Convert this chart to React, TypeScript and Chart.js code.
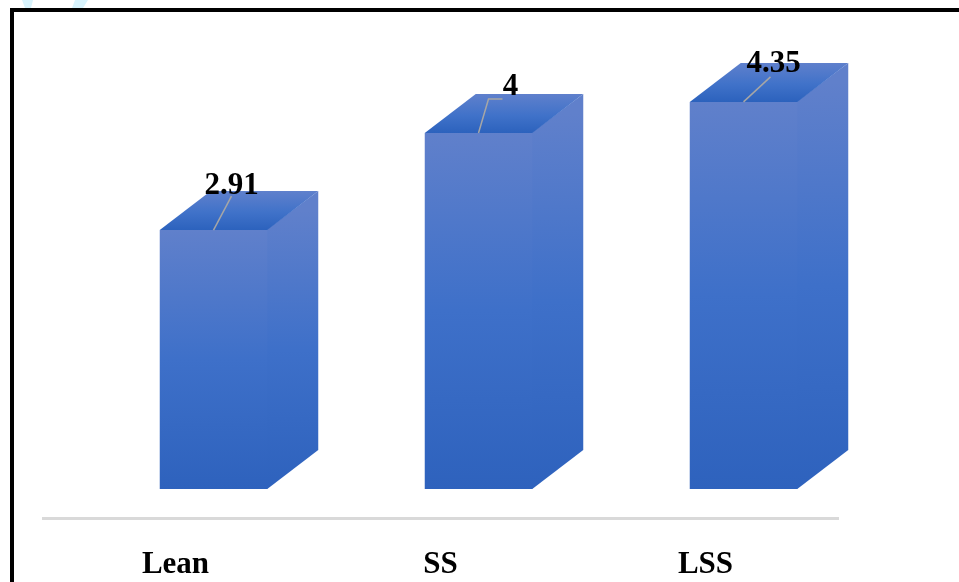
import { useEffect, useRef } from "react";
import { Chart, registerables } from "chart.js";

Chart.register(...registerables);

const categories = ["Lean", "SS", "LSS"];
const scores = [2.91, 4, 4.35];
const scoreLabels = ["2.91", "4", "4.35"];
// An unfilled series takes the first slot of each group, pushing the boxes right of their labels.
const spacer = [null, null, null];

const FRAME = "#000000";
const DEPTH_X = 51;
const DEPTH_Y = 39;
const FONT = '"Liberation Serif", serif';

// Vertical fade used by the front and side faces of a box.
function faceFill(ctx: CanvasRenderingContext2D, top: number, bottom: number) {
  const g = ctx.createLinearGradient(0, top, 0, bottom);
  g.addColorStop(0, "#6080cb");
  g.addColorStop(0.5, "#3e70c9");
  g.addColorStop(1, "#2e62bd");
  return g;
}

// Side and top faces, sitting behind the front face that the bar element paints.
const boxFaces = {
  id: "boxFaces",
  beforeDatasetsDraw(chart: Chart) {
    const { ctx } = chart;
    chart.getDatasetMeta(1).data.forEach((bar: any) => {
      const left = bar.x - bar.width / 2;
      const right = bar.x + bar.width / 2;
      const top = bar.y;
      const base = bar.base;

      ctx.save();
      ctx.fillStyle = faceFill(ctx, top - DEPTH_Y / 2, base);
      ctx.beginPath();
      ctx.moveTo(right - 1, top);
      ctx.lineTo(right + DEPTH_X, top - DEPTH_Y);
      ctx.lineTo(right + DEPTH_X, base - DEPTH_Y);
      ctx.lineTo(right, base);
      ctx.lineTo(right - 1, base);
      ctx.closePath();
      ctx.fill();

      const lid = ctx.createLinearGradient(0, top - DEPTH_Y, 0, top);
      lid.addColorStop(0, "#5f80cc");
      lid.addColorStop(0.55, "#4072c9");
      lid.addColorStop(1, "#2c62bd");
      ctx.fillStyle = lid;
      ctx.beginPath();
      ctx.moveTo(left, top);
      ctx.lineTo(left + DEPTH_X, top - DEPTH_Y);
      ctx.lineTo(right + DEPTH_X, top - DEPTH_Y);
      ctx.lineTo(right, top);
      ctx.closePath();
      ctx.fill();
      ctx.restore();
    });
  },
};

// Leader lines and bold value labels above each box.
const valueLabels = {
  id: "valueLabels",
  afterDatasetsDraw(chart: Chart) {
    const { ctx } = chart;
    const leaders = [
      [[18, -34]],
      [[10, -34], [24, -34]],
      [[27, -25]],
    ];
    const anchors = [
      [18, -44],
      [32, -46],
      [30, -38],
    ];
    chart.getDatasetMeta(1).data.forEach((bar: any, i: number) => {
      ctx.save();
      ctx.strokeStyle = "#a6a6a6";
      ctx.lineWidth = 1.5;
      ctx.beginPath();
      ctx.moveTo(bar.x, bar.y);
      leaders[i].forEach(([dx, dy]) => ctx.lineTo(bar.x + dx, bar.y + dy));
      ctx.stroke();

      ctx.fillStyle = "#000000";
      ctx.font = `bold 31px ${FONT}`;
      ctx.textAlign = "center";
      ctx.textBaseline = "middle";
      ctx.fillText(scoreLabels[i], bar.x + anchors[i][0], bar.y + anchors[i][1]);
      ctx.restore();
    });
  },
};

// Pale fragments cut off by the top edge of the figure.
function paleFragment(ctx: CanvasRenderingContext2D, points: number[][]) {
  ctx.beginPath();
  points.forEach(([x, y], i) => (i ? ctx.lineTo(x, y) : ctx.moveTo(x, y)));
  ctx.closePath();
  ctx.fill();
}

// Heavy rule along the top and left of the figure.
const figureFrame = {
  id: "figureFrame",
  afterDraw(chart: Chart) {
    const { ctx, width, height } = chart;
    ctx.save();
    ctx.fillStyle = "#d8f3fc";
    paleFragment(ctx, [[22, 0], [33, 0], [31, 8], [25, 8]]);
    paleFragment(ctx, [[75, 0], [88, 0], [83, 8], [72, 8]]);
    ctx.fillStyle = FRAME;
    ctx.fillRect(10, 8, width - 10, 4);
    ctx.fillRect(10, 8, 4, height - 8);
    ctx.restore();
  },
};

export default function App() {
  const canvasRef = useRef<HTMLCanvasElement>(null);

  useEffect(() => {
    document.body.style.margin = "0";
    const canvas = canvasRef.current;
    if (!canvas) return;
    const chart = new Chart(canvas, {
      type: "bar",
      data: {
        labels: categories,
        datasets: [
          {
            data: spacer,
            barPercentage: 1.4145,
            categoryPercentage: 0.5736,
          },
          {
            data: scores,
            barPercentage: 1.4145,
            categoryPercentage: 0.5736,
            backgroundColor: (context: any) => {
              const { chart: c, raw } = context;
              const y = c.scales.y;
              const top = y ? y.getPixelForValue(raw) : NaN;
              const bottom = y ? y.getPixelForValue(0) : NaN;
              // Scale pixels are not available until the first layout has run.
              if (!Number.isFinite(top) || !Number.isFinite(bottom)) return "#3e70c9";
              return faceFill(c.ctx, top, bottom);
            },
          },
        ],
      },
      options: {
        animation: false,
        responsive: false,
        layout: { padding: { left: 43, right: 121, top: 12, bottom: 0 } },
        plugins: {
          legend: { display: false },
          tooltip: { enabled: false },
        },
        scales: {
          x: {
            afterFit: (scale: any) => {
              scale.height = 64;
            },
            grid: { display: false },
            border: { display: true, color: "#d9d9d9", width: 3 },
            ticks: {
              color: "#000000",
              padding: 20,
              maxRotation: 0,
              font: { family: FONT, size: 31, weight: "bold" },
            },
          },
          // The range dips below zero so the boxes float above the category rule.
          y: { display: false, min: -0.326, max: 5.36 },
        },
      },
      plugins: [boxFaces, valueLabels, figureFrame],
    });
    return () => chart.destroy();
  }, []);

  return (
    <canvas
      ref={canvasRef}
      width={959}
      height={582}
      style={{ display: "block", position: "absolute", left: 0, top: 0, background: "#ffffff" }}
    />
  );
}
